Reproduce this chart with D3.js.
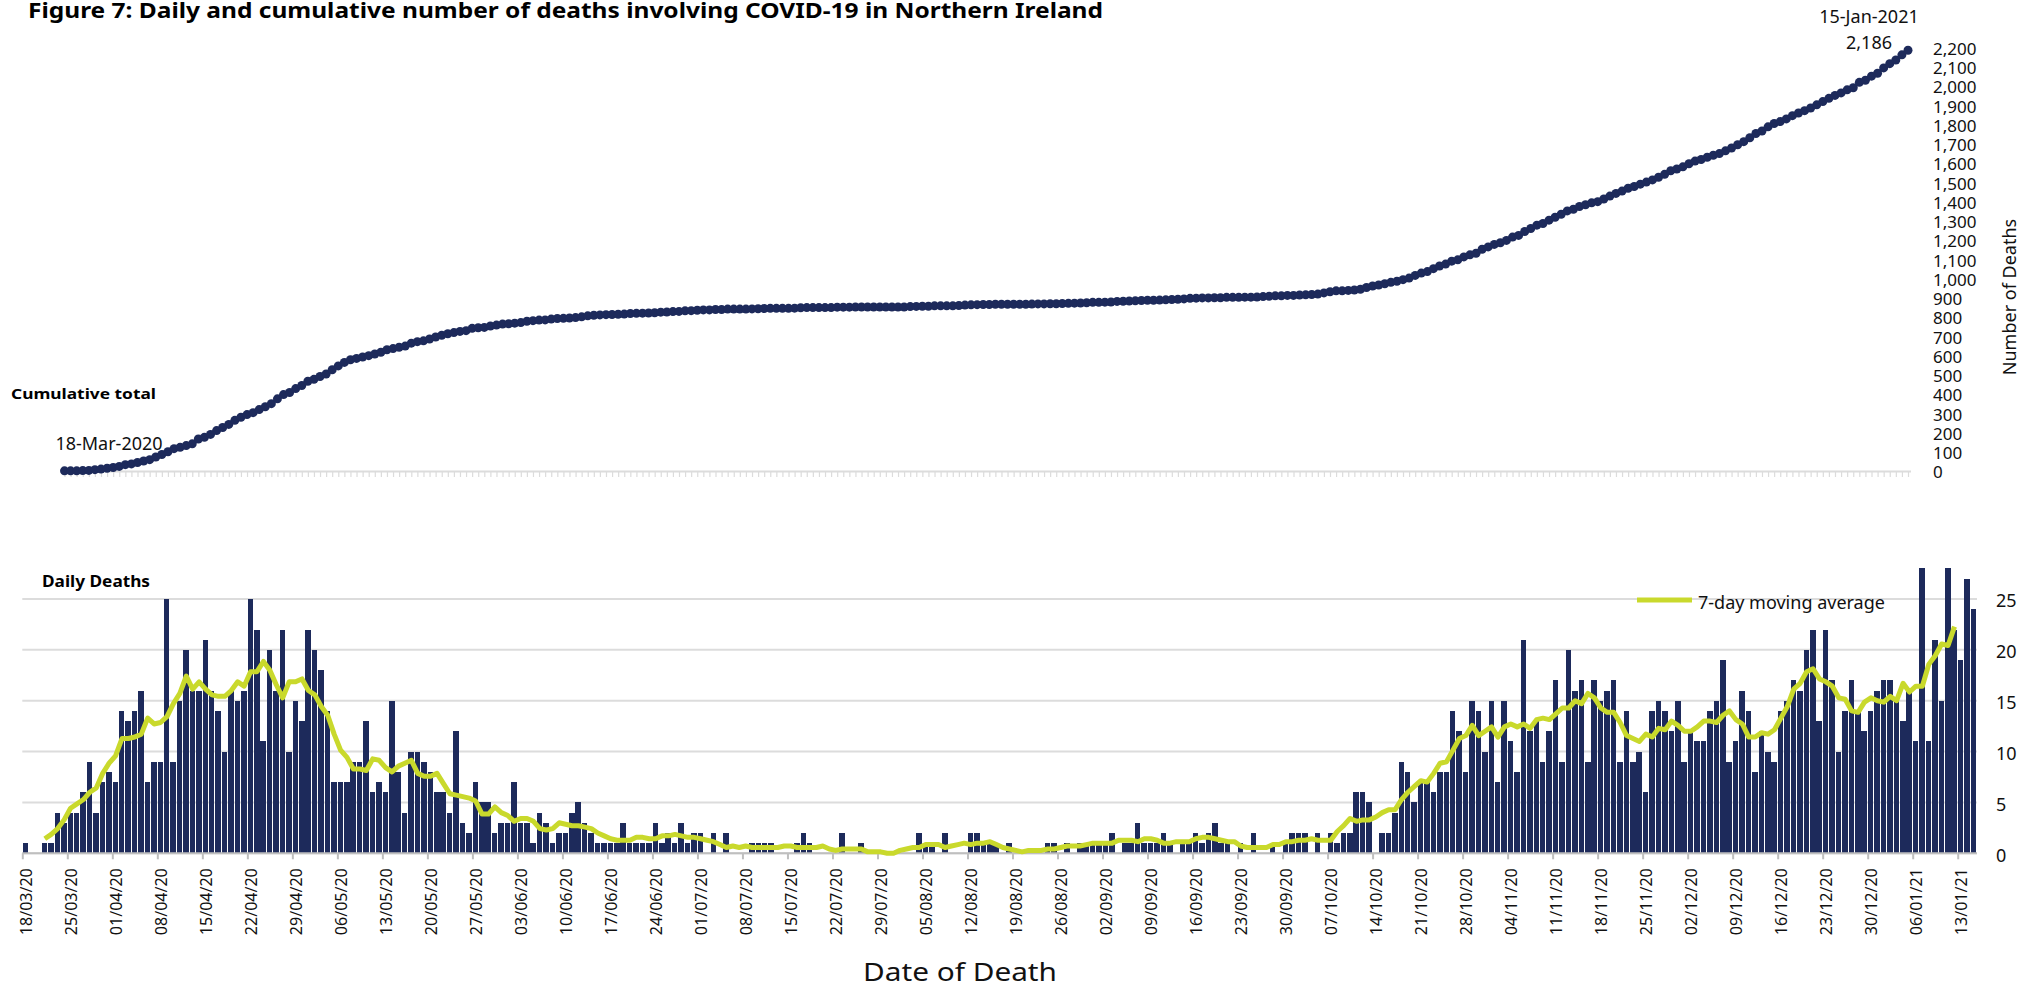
<!DOCTYPE html>
<html>
<head>
<meta charset="utf-8">
<script src="https://cdn.jsdelivr.net/npm/d3@7"></script>
<style>
  body { margin: 0; background: #fff; }
  svg { display: block; font-family: "Noto Sans", sans-serif; }
  .axis text { fill: #111; }
</style>
</head>
<body>
<svg id="chart" width="2039" height="989"></svg>
<script>
const width = 2039;
const height = 989;

// first day shown in both panels
const startDate = new Date(2020, 2, 18);

// daily deaths by date of death, one row per week from 18/03/20
const dailyDeaths = [
  1, 0, 0, 1, 1, 4, 3,
  4, 4, 6, 9, 4, 7, 8,
  7, 14, 13, 14, 16, 7, 9,
  9, 25, 9, 15, 20, 16, 16,
  21, 16, 14, 10, 16, 15, 16,
  25, 22, 11, 20, 16, 22, 10,
  15, 13, 22, 20, 18, 14, 7,
  7, 7, 9, 9, 13, 6, 7,
  6, 15, 8, 4, 10, 10, 9,
  8, 6, 6, 4, 12, 3, 2,
  7, 5, 5, 2, 3, 3, 7,
  3, 3, 1, 4, 3, 1, 2,
  2, 4, 5, 3, 2, 1, 1,
  1, 1, 3, 1, 1, 1, 1,
  3, 1, 2, 1, 3, 1, 2,
  2, 0, 2, 0, 2, 0, 0,
  0, 1, 1, 1, 1, 0, 0,
  0, 1, 2, 1, 0, 0, 0,
  0, 2, 0, 0, 1, 0, 0,
  0, 0, 0, 0, 0, 0, 2,
  1, 1, 0, 2, 0, 0, 0,
  2, 2, 1, 1, 1, 0, 1,
  0, 0, 0, 0, 0, 1, 1,
  0, 1, 0, 1, 1, 1, 1,
  1, 2, 0, 1, 1, 3, 1,
  1, 1, 2, 1, 0, 1, 1,
  2, 1, 2, 3, 1, 1, 0,
  1, 0, 2, 0, 0, 1, 0,
  1, 2, 2, 2, 0, 2, 0,
  2, 1, 2, 2, 6, 6, 5,
  0, 2, 2, 4, 9, 8, 5,
  7, 7, 6, 8, 8, 14, 12,
  8, 15, 14, 10, 15, 7, 15,
  11, 8, 21, 12, 13, 9, 12,
  17, 9, 20, 16, 17, 9, 17,
  15, 16, 17, 9, 14, 9, 10,
  6, 14, 15, 14, 12, 15, 9,
  12, 11, 11, 14, 15, 19, 9,
  11, 16, 14, 8, 12, 10, 9,
  14, 15, 17, 16, 20, 22, 13,
  22, 17, 10, 14, 17, 14, 12,
  14, 16, 17, 17, 15, 13, 16,
  11, 28, 11, 21, 15, 28, 22,
  19, 27, 24
];

// axis ticks
const cumulativeTicks = d3.range(0, 2201, 100);
const dailyTicks = [0, 5, 10, 15, 20, 25];
const labelEvery = 7; // one date label per week

const titleText = "Figure 7: Daily and cumulative number of deaths involving COVID-19 in Northern Ireland";

const navy = "#1d2a5b";
const lime = "#c9d92c";
const grid = "#dcdcdc";

const n = dailyDeaths.length;
const days = d3.range(n);
const dateOf = i => d3.timeDay.offset(startDate, i);
const fmtShort = d3.timeFormat("%d/%m/%y");
const fmtLong = d3.timeFormat("%d-%b-%Y");

// derived series: running total and centred 7-day average
const cumulative = Array.from(d3.cumsum(dailyDeaths));
const movingAvg = days.filter(i => i >= 3 && i < n - 3)
  .map(i => ({ i: i, v: d3.mean(dailyDeaths.slice(i - 3, i + 4)) }));

const svg = d3.select("#chart");

// TITLE
svg.append("text")
  .attr("x", 28).attr("y", 18)
  .attr("font-size", 22).attr("font-weight", "bold")
  .attr("textLength", 1075).attr("lengthAdjust", "spacingAndGlyphs")
  .text(titleText);

// ---------- TOP PANEL: cumulative ----------
const xTop = d3.scalePoint().domain(days).range([64.5, 1908]);
const yTop = d3.scaleLinear().domain([0, 2200]).range([471, 47.5]);

const topAxis = svg.append("g")
  .attr("class", "axis")
  .attr("transform", `translate(0, ${yTop(0)})`)
  .call(d3.axisBottom(xTop).tickValues(days).tickFormat("").tickSize(6).tickSizeOuter(0));
topAxis.selectAll("line").attr("stroke", grid).attr("stroke-width", 1.2);
topAxis.select(".domain").attr("stroke", grid).attr("stroke-width", 2)
  .attr("d", `M${xTop(0) - 2},0.5H${xTop(n - 1) + 3}`);

const topY = svg.append("g")
  .attr("class", "axis")
  .attr("transform", "translate(1925, 1.5)")
  .call(d3.axisRight(yTop).tickValues(cumulativeTicks).tickFormat(d3.format(",")).tickSize(0).tickPadding(8));
topY.select(".domain").remove();
topY.selectAll("text").attr("font-size", 17).attr("font-family", "Noto Sans");

svg.append("text")
  .attr("transform", "translate(2016, 297) rotate(-90)")
  .attr("text-anchor", "middle")
  .attr("font-size", 18)
  .attr("fill", "#111")
  .text("Number of Deaths");

svg.append("path")
  .datum(cumulative)
  .attr("fill", "none")
  .attr("stroke", navy)
  .attr("stroke-width", 3)
  .attr("d", d3.line().x((d, i) => xTop(i)).y(d => yTop(d)));

svg.append("g").selectAll("circle")
  .data(cumulative)
  .join("circle")
    .attr("cx", (d, i) => xTop(i))
    .attr("cy", d => yTop(d))
    .attr("r", 4.5)
    .attr("fill", navy);

// end labels
svg.append("text")
  .attr("x", 109).attr("y", 450)
  .attr("text-anchor", "middle").attr("font-size", 18).attr("fill", "#111")
  .text(fmtLong(dateOf(0)));
svg.append("text")
  .attr("x", 1869).attr("y", 23)
  .attr("text-anchor", "middle").attr("font-size", 18).attr("fill", "#111")
  .text(fmtLong(dateOf(n - 1)));
svg.append("text")
  .attr("x", 1869).attr("y", 49)
  .attr("text-anchor", "middle").attr("font-size", 18).attr("fill", "#111")
  .text(d3.format(",")(cumulative[n - 1]));

svg.append("text")
  .attr("x", 11).attr("y", 399)
  .attr("font-size", 15).attr("font-weight", "bold")
  .attr("textLength", 145).attr("lengthAdjust", "spacingAndGlyphs")
  .text("Cumulative  total");

// ---------- BOTTOM PANEL: daily ----------
const x0 = 22.3, x1 = 1977;
const xBot = d3.scaleLinear().domain([0, n]).range([x0, x1]);
const step = xBot(1) - xBot(0);
const yBot = d3.scaleLinear().domain([0, 25]).range([853.3, 599]);

svg.append("g").selectAll("line")
  .data(dailyTicks)
  .join("line")
    .attr("x1", x0).attr("x2", x1)
    .attr("y1", d => yBot(d)).attr("y2", d => yBot(d))
    .attr("stroke", grid).attr("stroke-width", 2);

svg.append("g")
  .attr("shape-rendering", "crispEdges")
  .selectAll("rect")
  .data(dailyDeaths)
  .join("rect")
    .attr("x", (d, i) => xBot(i) + 0.2)
    .attr("width", step - 0.9)
    .attr("y", d => yBot(d))
    .attr("height", d => yBot(0) - yBot(d))
    .attr("fill", navy);

const weekIdx = days.filter(i => i % labelEvery === 0);
const botAxis = svg.append("g")
  .attr("class", "axis")
  .attr("transform", `translate(0, ${yBot(0)})`)
  .call(d3.axisBottom(xBot).tickValues(weekIdx).tickFormat(i => fmtShort(dateOf(i))).tickSize(6).tickSizeOuter(0));
botAxis.select(".domain").attr("stroke", "#bfbfbf").attr("stroke-width", 2)
  .attr("d", `M${x0},0H${x1}`);
botAxis.selectAll("line").attr("stroke", "#bfbfbf").attr("stroke-width", 2);
botAxis.selectAll("text")
  .attr("font-size", 16)
  .attr("font-family", "Noto Sans")
  .attr("text-anchor", "end")
  .attr("transform", "rotate(-90)")
  .attr("x", -15)
  .attr("y", step / 2)
  .attr("dy", "0.35em");

const botY = svg.append("g")
  .attr("class", "axis")
  .attr("transform", "translate(1988, 2)")
  .call(d3.axisRight(yBot).tickValues(dailyTicks).tickSize(0).tickPadding(8));
botY.select(".domain").remove();
botY.selectAll("text").attr("font-size", 18).attr("font-family", "Noto Sans");

svg.append("path")
  .datum(movingAvg)
  .attr("fill", "none")
  .attr("stroke", lime)
  .attr("stroke-width", 5)
  .attr("stroke-linejoin", "round")
  .attr("d", d3.line().x(d => xBot(d.i + 0.5)).y(d => yBot(d.v)));

svg.append("text")
  .attr("x", 42).attr("y", 587)
  .attr("font-size", 16).attr("font-weight", "bold")
  .attr("textLength", 108).attr("lengthAdjust", "spacingAndGlyphs")
  .text("Daily  Deaths");

// legend
svg.append("line")
  .attr("x1", 1637).attr("x2", 1692).attr("y1", 600).attr("y2", 600)
  .attr("stroke", lime).attr("stroke-width", 5);
svg.append("text")
  .attr("x", 1698).attr("y", 609)
  .attr("font-size", 18).attr("fill", "#111")
  .text("7-day moving average");

svg.append("text")
  .attr("x", 960).attr("y", 981)
  .attr("text-anchor", "middle").attr("font-size", 25).attr("fill", "#111")
  .attr("textLength", 194).attr("lengthAdjust", "spacingAndGlyphs")
  .text("Date of Death");
</script>
</body>
</html>
